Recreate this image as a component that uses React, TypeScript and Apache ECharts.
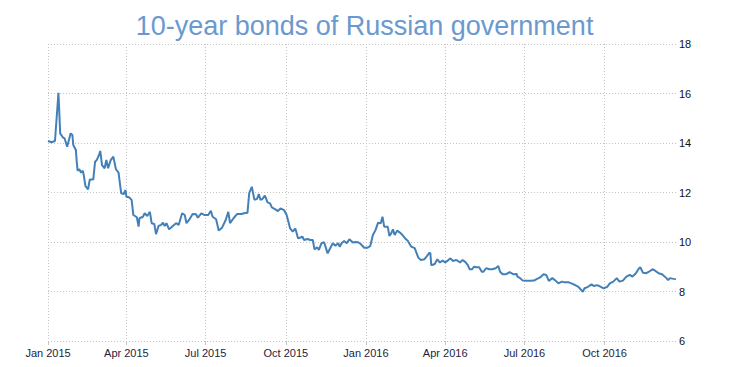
import React, { useEffect, useRef } from "react";
import * as echarts from "echarts";

const TITLE = "10-year bonds of Russian government";

const dates: string[] = [
  "2015-01-01","2015-01-05","2015-01-09","2015-01-13","2015-01-15","2015-01-18","2015-01-20","2015-01-23","2015-01-27","2015-01-29","2015-01-30",
  "2015-02-02","2015-02-03","2015-02-04","2015-02-06","2015-02-08","2015-02-10","2015-02-11","2015-02-13","2015-02-16","2015-02-18","2015-02-22","2015-02-24","2015-02-26",
  "2015-03-01","2015-03-02","2015-03-04","2015-03-07","2015-03-09","2015-03-11","2015-03-14","2015-03-17","2015-03-20","2015-03-23","2015-03-26","2015-03-29","2015-03-31",
  "2015-04-01","2015-04-04","2015-04-07","2015-04-09","2015-04-13","2015-04-15","2015-04-16","2015-04-20","2015-04-22","2015-04-25","2015-04-28","2015-04-30",
  "2015-05-03","2015-05-05","2015-05-08","2015-05-11","2015-05-13","2015-05-15","2015-05-17","2015-05-20","2015-05-25","2015-05-28","2015-05-31",
  "2015-06-04","2015-06-07","2015-06-09","2015-06-12","2015-06-16","2015-06-20","2015-06-22","2015-06-26","2015-06-30",
  "2015-07-04","2015-07-07","2015-07-09","2015-07-13","2015-07-16","2015-07-20","2015-07-24","2015-07-27","2015-07-29",
  "2015-08-02","2015-08-06","2015-08-11","2015-08-14","2015-08-18","2015-08-20","2015-08-23","2015-08-26","2015-08-29","2015-08-31",
  "2015-09-02","2015-09-04","2015-09-07","2015-09-10","2015-09-13","2015-09-15","2015-09-19","2015-09-22","2015-09-25","2015-09-29",
  "2015-10-02","2015-10-06","2015-10-09","2015-10-12","2015-10-15","2015-10-18","2015-10-20","2015-10-22","2015-10-26","2015-10-29",
  "2015-11-01","2015-11-03","2015-11-06","2015-11-08","2015-11-11","2015-11-14","2015-11-18","2015-11-21","2015-11-24","2015-11-27","2015-11-30",
  "2015-12-02","2015-12-04","2015-12-07","2015-12-10","2015-12-13","2015-12-17","2015-12-20","2015-12-23","2015-12-26","2015-12-30",
  "2016-01-03","2016-01-06","2016-01-09","2016-01-12","2016-01-15","2016-01-18","2016-01-20","2016-01-22","2016-01-26","2016-01-28","2016-01-30",
  "2016-02-01","2016-02-03","2016-02-06","2016-02-09","2016-02-12","2016-02-16","2016-02-18","2016-02-22","2016-02-26",
  "2016-03-01","2016-03-04","2016-03-08","2016-03-11","2016-03-14","2016-03-15","2016-03-16","2016-03-17","2016-03-20","2016-03-23","2016-03-26","2016-03-29",
  "2016-04-01","2016-04-04","2016-04-07","2016-04-10","2016-04-13","2016-04-15","2016-04-18","2016-04-21","2016-04-24","2016-04-27","2016-04-29",
  "2016-05-02","2016-05-04","2016-05-07","2016-05-10","2016-05-13","2016-05-15","2016-05-18","2016-05-22","2016-05-25","2016-05-29",
  "2016-06-01","2016-06-03","2016-06-06","2016-06-10","2016-06-14","2016-06-18","2016-06-22","2016-06-23","2016-06-26","2016-06-29",
  "2016-07-04","2016-07-08","2016-07-12","2016-07-15","2016-07-19","2016-07-23","2016-07-26","2016-07-29",
  "2016-08-02","2016-08-05","2016-08-09","2016-08-13","2016-08-16","2016-08-21","2016-08-26",
  "2016-09-01","2016-09-06","2016-09-08","2016-09-12","2016-09-16","2016-09-19","2016-09-22","2016-09-25","2016-09-30",
  "2016-10-04","2016-10-07","2016-10-11","2016-10-15","2016-10-18","2016-10-22","2016-10-26","2016-10-30",
  "2016-11-02","2016-11-06","2016-11-09","2016-11-11","2016-11-14","2016-11-18","2016-11-21","2016-11-25","2016-11-28",
  "2016-12-02","2016-12-06","2016-12-11","2016-12-13","2016-12-15","2016-12-19","2016-12-22"
];

const yields: number[] = [
  14.08,14.03,14.08,16.03,14.39,14.23,14.19,13.85,14.39,14.32,13.92,
  13.72,13.24,12.88,12.94,12.80,12.88,12.71,12.26,12.13,12.53,12.53,13.24,13.31,
  13.56,13.68,13.11,12.98,13.31,12.98,13.31,13.45,12.94,12.80,11.97,11.94,12.10,
  11.83,11.81,11.70,11.09,11.00,10.62,10.96,11.02,11.16,11.05,11.22,10.76,
  10.73,10.32,10.65,10.69,10.78,10.65,10.76,10.51,10.67,10.76,10.69,
  11.16,11.09,10.76,10.89,11.13,11.12,10.98,11.16,11.09,
  11.09,11.26,11.02,10.92,10.46,10.59,10.89,11.22,10.76,
  10.96,11.13,11.13,11.16,11.18,11.97,12.23,11.70,11.74,11.94,
  11.70,11.73,11.87,11.60,11.56,11.40,11.32,11.25,11.36,11.29,
  11.09,10.55,10.42,10.55,10.15,10.18,10.22,10.08,10.12,10.08,
  10.08,9.70,9.79,9.68,9.95,9.99,9.54,9.75,9.95,9.85,9.95,
  9.81,9.95,10.04,9.95,10.11,9.98,10.00,9.99,9.92,9.77,
  9.77,9.84,10.28,10.48,10.78,10.76,11.02,10.62,10.62,10.24,10.35,
  10.51,10.28,10.46,10.38,10.28,10.11,10.05,9.81,9.75,
  9.38,9.27,9.30,9.43,9.57,9.54,9.07,9.07,9.11,9.30,9.17,9.25,
  9.18,9.25,9.34,9.23,9.27,9.25,9.17,9.27,9.20,9.07,8.90,
  8.90,9.00,8.98,8.98,8.80,8.80,8.94,8.90,8.90,8.94,
  9.03,8.80,8.70,8.70,8.78,8.70,8.71,8.60,8.54,8.44,
  8.43,8.43,8.44,8.50,8.57,8.70,8.67,8.43,
  8.54,8.46,8.33,8.40,8.37,8.37,8.30,
  8.19,7.99,8.13,8.19,8.29,8.22,8.26,8.22,8.13,
  8.19,8.33,8.40,8.54,8.40,8.44,8.60,8.67,
  8.60,8.74,8.91,8.98,8.76,8.74,8.80,8.90,8.84,
  8.74,8.70,8.54,8.46,8.54,8.51,8.50
];

const xTickDates: string[] = [
  "2015-01-01","2015-04-01","2015-07-01","2015-10-01",
  "2016-01-01","2016-04-01","2016-07-01","2016-10-01"
];
const X_MIN = "2015-01-01";
const X_MAX = "2016-12-22";

const Y_MIN = 6;
const Y_MAX = 18;
const Y_STEP = 2;

const MONTHS = ["Jan","Feb","Mar","Apr","May","Jun","Jul","Aug","Sep","Oct","Nov","Dec"];

function ts(s: string): number {
  const [y, m, d] = s.split("-").map(Number);
  return new Date(y, m - 1, d).getTime();
}

export default function App() {
  const ref = useRef<HTMLDivElement>(null);

  useEffect(() => {
    if (!ref.current) return;
    const chart = echarts.init(ref.current, null, { renderer: "svg" });
    const tickVals = xTickDates.map(ts);
    const gridLine = { show: true, lineStyle: { color: "#c4c4c4", type: [1, 2] as any, width: 1 } };
    chart.setOption({
      animation: false,
      backgroundColor: "#ffffff",
      title: {
        text: TITLE,
        left: "center",
        top: 7,
        textStyle: {
          fontFamily: "Liberation Sans, Arial, sans-serif",
          fontSize: 27,
          fontWeight: "normal",
          color: "#6b99cf",
        },
      },
      grid: { left: 48, right: 53, top: 44, bottom: 26, containLabel: false },
      xAxis: {
        type: "value",
        min: ts(X_MIN),
        max: ts(X_MAX),
        axisLine: { show: false },
        axisTick: { show: true, customValues: tickVals, length: 4, lineStyle: { color: "#c4c4c4" } },
        splitLine: gridLine,
        axisLabel: {
          customValues: tickVals,
          margin: 6,
          fontFamily: "Liberation Sans, Arial, sans-serif",
          fontSize: 11,
          color: "#1e1e3c",
          formatter: (v: number) => {
            const d = new Date(v);
            return `${MONTHS[d.getMonth()]} ${d.getFullYear()}`;
          },
        },
      },
      yAxis: {
        type: "value",
        position: "right",
        min: Y_MIN,
        max: Y_MAX,
        interval: Y_STEP,
        axisLine: { show: false },
        axisTick: { show: false },
        splitLine: gridLine,
        axisLabel: {
          margin: 3,
          fontFamily: "Liberation Sans, Arial, sans-serif",
          fontSize: 11,
          color: "#111111",
        },
      },
      series: [
        {
          type: "line",
          data: dates.map((d, i) => [ts(d), yields[i]]),
          showSymbol: false,
          symbol: "none",
          lineStyle: { color: "#4380b8", width: 2 },
          itemStyle: { color: "#4380b8" },
        },
      ],
    });
    return () => chart.dispose();
  }, []);

  return (
    <div
      ref={ref}
      style={{ position: "fixed", left: 0, top: 0, width: 729, height: 367, background: "#fff" }}
    />
  );
}
